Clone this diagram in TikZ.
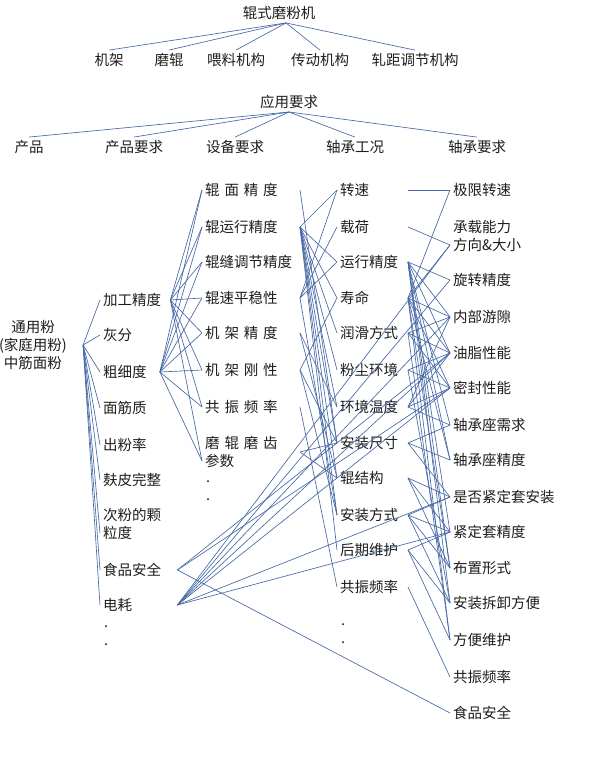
\documentclass[tikz,border=0pt]{standalone}
\usepackage{fontspec}
\setmainfont{Noto Sans CJK SC}

\definecolor{linkblue}{RGB}{70,104,166}
\definecolor{inkgray}{RGB}{30,30,30}

% four characters spread over the width of five
\newcommand{\spreadfour}[4]{\makebox[5em][s]{#1\hfill#2\hfill#3\hfill#4}}

\tikzset{
  lbl/.style={inner sep=3pt, text=inkgray, font=\fontsize{14.5}{18}\selectfont},
  item/.style={lbl, anchor=west, align=left},
  dotmark/.style={lbl, anchor=west, inner sep=0pt},
  link/.style={draw=linkblue, line width=0.65pt},
}

\begin{document}
\begin{tikzpicture}[x=1pt, y=-1pt]
\useasboundingbox[fill=white] (0,0) rectangle (590,757);

% machine and its parts
\node[lbl] (mill) at (279,13) {辊式磨粉机};
\node[lbl] (m1) at (109,60) {机架};
\node[lbl] (m2) at (169,60) {磨辊};
\node[lbl] (m3) at (236,60) {喂料机构};
\node[lbl] (m4) at (320,60) {传动机构};
\node[lbl] (m5) at (415,60) {轧距调节机构};
\foreach \i in {1,...,5}
  \draw[link] ([xshift=7pt]mill.south) -- (m\i.north);

% requirement groups
\node[lbl] (req) at (289,102) {应用要求};
\node[lbl] (r1) at (29,147) {产品};
\node[lbl] (r2) at (134,147) {产品要求};
\node[lbl] (r3) at (235,147) {设备要求};
\node[lbl] (r4) at (355,147) {轴承工况};
\node[lbl] (r5) at (477,147) {轴承要求};
\foreach \i in {1,...,5}
  \draw[link] (req.south) -- (r\i.north);

% product
\node[lbl, align=center] (cp) at (33,345) {通用粉\\(家庭用粉)\\中筋面粉};

% product requirements
\node[item] (jg) at (100,300) {加工精度};
\node[item] (hf) at (100,335) {灰分};
\node[item] (cx) at (100,372) {粗细度};
\node[item] (mj) at (100,408) {面筋质};
\node[item] (cf) at (100,445) {出粉率};
\node[item] (fp) at (100,480) {麸皮完整};
\node[item] (ck) at (100,524) {次粉的颗\\粒度};
\node[item] (sa) at (100,570) {食品安全};
\node[item] (dh) at (100,605) {电耗};
\node[dotmark] (pd1) at (104,627) {.};
\node[dotmark] (pd2) at (104,645) {.};

% equipment requirements
\node[item] (rm) at (202,190) {\spreadfour{辊}{面}{精}{度}};
\node[item] (ry) at (202,227) {辊运行精度};
\node[item] (rf) at (202,262) {辊缝调节精度};
\node[item] (rs) at (202,298) {辊速平稳性};
\node[item] (jz) at (202,333) {\spreadfour{机}{架}{精}{度}};
\node[item] (jk) at (202,370) {\spreadfour{机}{架}{刚}{性}};
\node[item] (gz) at (202,407) {\spreadfour{共}{振}{频}{率}};
\node[item] (mc) at (202,452) {\spreadfour{磨}{辊}{磨}{齿}\\参数};
\node[dotmark] (ed1) at (206,482) {.};
\node[dotmark] (ed2) at (206,500) {.};

% bearing working conditions
\node[item] (zs) at (337,190) {转速};
\node[item] (zh) at (337,227) {载荷};
\node[item] (yx) at (337,262) {运行精度};
\node[item] (sm) at (337,298) {寿命};
\node[item] (rh) at (337,333) {润滑方式};
\node[item] (fc) at (337,370) {粉尘环境};
\node[item] (hj) at (337,407) {环境温度};
\node[item] (az) at (337,443) {安装尺寸};
\node[item] (gj) at (337,478) {辊结构};
\node[item] (af) at (337,515) {安装方式};
\node[item] (hq) at (337,550) {后期维护};
\node[item] (gp) at (337,587) {共振频率};
\node[dotmark] (wd1) at (341,625) {.};
\node[dotmark] (wd2) at (341,643) {.};

% bearing requirements
\node[item] (jx) at (450,190) {极限转速};
\node[item] (cz) at (450,236) {承载能力\\方向\&大小};
\node[item] (xz) at (450,280) {旋转精度};
\node[item] (nb) at (450,317) {内部游隙};
\node[item] (yz) at (450,353) {油脂性能};
\node[item] (mf) at (450,388) {密封性能};
\node[item] (zx) at (450,425) {轴承座需求};
\node[item] (zj) at (450,460) {轴承座精度};
\node[item] (sj) at (450,497) {是否紧定套安装};
\node[item] (jt) at (450,532) {紧定套精度};
\node[item] (bz) at (450,568) {布置形式};
\node[item] (aj) at (450,603) {安装拆卸方便};
\node[item] (fw) at (450,640) {方便维护};
\node[item] (gpr) at (450,677) {共振频率};
\node[item] (spa) at (450,713) {食品安全};

% where the links leave and enter
\coordinate (colB) at (300,0);
\coordinate (colC) at (408,0);
\coordinate (cp-o) at ([xshift=13pt]cp.east);
\coordinate (jg-o) at ([xshift=6pt]jg.east);
\coordinate (cx-o) at ([xshift=10pt]cx.east);
\coordinate (sa-o) at ([xshift=13pt]sa.east);
\coordinate (dh-o) at (dh.east -| sa-o);
\foreach \n in {rm,ry,rf,rs,jz,jk,gz,mc}
  \coordinate (\n-o) at (\n.east -| colB);
\foreach \n in {zs,zh,yx,sm,rh,fc,hj,az,gj,af,hq,gp}
  \coordinate (\n-o) at (\n.east -| colC);
\foreach \n in {jg,hf,cx,mj,cf,fp,sa,dh,rm,ry,rf,rs,jz,jk,gz,
                zs,zh,yx,sm,rh,fc,hj,az,gj,af,hq,gp,
                jx,xz,nb,yz,mf,zx,zj,sj,jt,bz,aj,fw,gpr,spa}
  \coordinate (\n-i) at (\n.west);
\coordinate (ck-i) at ([yshift=-9pt]ck.west);
\coordinate (mc-i) at ([yshift=-9pt]mc.west);
\coordinate (cz-i) at ([yshift=-9pt]cz.west);

% product -> product requirements
\foreach \t in {jg,hf,cx,mj,cf,fp,ck,sa,dh}
  \draw[link] (cp-o) -- (\t-i);

% product requirements -> equipment requirements
\foreach \s in {jg,cx}
  \foreach \t in {rm,ry,rf,rs,jz,jk,gz,mc}
    \draw[link] (\s-o) -- (\t-i);

% equipment requirements -> working conditions
\foreach \s/\t in {rm/az,ry/zs,ry/yx,ry/sm,ry/rh,ry/fc,ry/hj,ry/az,ry/gj,ry/af,ry/hq,
                   rs/zs,rs/zh,rs/yx,rs/af,jz/hj,jz/gj,jk/sm,jk/az,jk/af,
                   gz/gp,mc/az,mc/gj}
  \draw[link] (\s-o) -- (\t-i);

% working conditions -> bearing requirements
\foreach \s/\t in {zs/jx,zh/cz,sm/jx,sm/cz,
                   yx/xz,yx/nb,yx/yz,yx/zx,yx/zj,yx/jt,yx/bz,yx/aj,
                   sm/nb,sm/yz,sm/mf,sm/zj,sm/bz,sm/fw,
                   rh/nb,rh/yz,rh/mf,rh/fw,
                   fc/yz,fc/mf,fc/aj,
                   hj/nb,hj/yz,hj/mf,hj/zx,
                   az/zx,az/zj,az/sj,
                   gj/sj,gj/jt,gj/bz,
                   af/sj,af/jt,af/bz,af/aj,
                   hq/jt,hq/aj,hq/fw,
                   gp/gpr}
  \draw[link] (\s-o) -- (\t-i);

% food safety and power use reach the bearing side directly
\foreach \t in {yz,mf,spa}
  \draw[link] (sa-o) -- (\t-i);
\foreach \t in {cz,xz,nb,yz,mf,sj,jt}
  \draw[link] (dh-o) -- (\t-i);

\end{tikzpicture}
\end{document}
